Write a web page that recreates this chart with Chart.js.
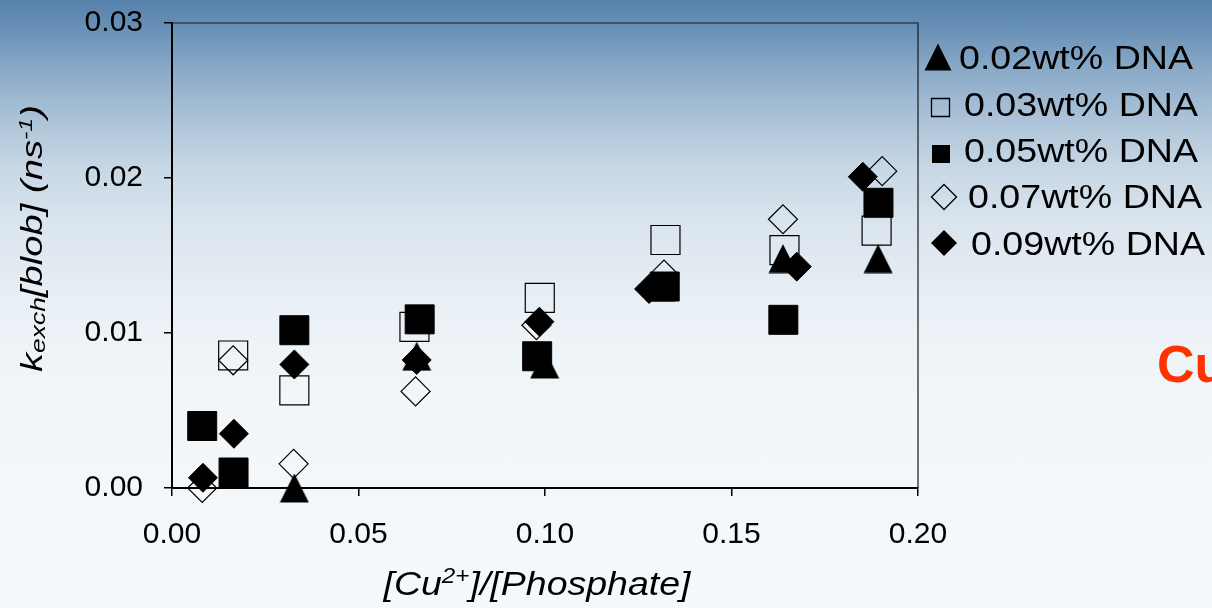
<!DOCTYPE html>
<html>
<head>
<meta charset="utf-8">
<script src="https://cdn.jsdelivr.net/npm/chart.js@4.4.0/dist/chart.umd.min.js"></script>
<style>
  html, body { margin: 0; padding: 0; }
  body {
    width: 1212px; height: 608px; overflow: hidden;
    background: linear-gradient(to bottom, #5681ab 0%, #6a92b7 5%, #8cacc9 12%, #adc4d8 20%,
      #c8d8e5 28%, #dce6ef 38%, #e9f0f5 50%, #f2f6f9 65%, #f6f9fb 100%);
  }
  #wrap { position: relative; width: 1212px; height: 608px; }
</style>
</head>
<body>
<div id="wrap"><canvas id="myChart" width="1212" height="608"></canvas></div>
<script>
// === DATA ===
const seriesNames = ["0.02wt% DNA", "0.03wt% DNA", "0.05wt% DNA", "0.07wt% DNA", "0.09wt% DNA"];

// 0.02wt% (filled triangle)
const dna002_x = [0.0328, 0.0656, 0.0999, 0.1310, 0.1638, 0.1893];
const dna002_y = [0.0000, 0.0085, 0.0080, 0.0130, 0.0148, 0.0148];
// 0.03wt% (open square)
const dna003_x = [0.0164, 0.0328, 0.0650, 0.0986, 0.1323, 0.1642, 0.1889];
const dna003_y = [0.00855, 0.0063, 0.0104, 0.01227, 0.0160, 0.01535, 0.0166];
// 0.05wt% (filled square)
const dna005_x = [0.0081, 0.0165, 0.0328, 0.0664, 0.0979, 0.1321, 0.1639, 0.1894];
const dna005_y = [0.0040, 0.0010, 0.01018, 0.01088, 0.0085, 0.0130, 0.01085, 0.0184];
// 0.07wt% (open diamond)
const dna007_x = [0.0081, 0.0164, 0.0326, 0.0653, 0.0977, 0.1319, 0.1638, 0.1904];
const dna007_y = [0.0000, 0.00824, 0.00156, 0.00623, 0.0105, 0.01377, 0.01734, 0.02044];
// 0.09wt% (filled diamond)
const dna009_x = [0.0083, 0.0166, 0.0328, 0.0656, 0.0985, 0.1279, 0.1675, 0.1852];
const dna009_y = [0.00066, 0.0035, 0.00797, 0.00826, 0.01073, 0.01284, 0.01428, 0.02008];

const xTicks = [0, 0.05, 0.10, 0.15, 0.20];
const yTicks = [0, 0.01, 0.02, 0.03];

const FONT = "'Liberation Sans', Arial, sans-serif";

function toPoints(xs, ys) {
  return xs.map((x, i) => ({ x: x, y: ys[i] }));
}

// triangle marker as a small canvas (centred on its bounding box)
function triangleImage(size) {
  const c = document.createElement("canvas");
  c.width = size; c.height = size;
  const g = c.getContext("2d");
  g.fillStyle = "#000";
  g.beginPath();
  g.moveTo(size / 2, 0.5);
  g.lineTo(size - 0.5, size - 0.5);
  g.lineTo(0.5, size - 0.5);
  g.closePath();
  g.fill();
  return c;
}

function drawMarker(ctx, kind, x, y, s) {
  ctx.beginPath();
  if (kind === "triangle") {
    ctx.moveTo(x, y - s / 2);
    ctx.lineTo(x + s / 2, y + s / 2);
    ctx.lineTo(x - s / 2, y + s / 2);
    ctx.closePath();
  } else if (kind === "square" || kind === "squareOpen") {
    ctx.rect(x - s / 2, y - s / 2, s, s);
  } else {
    ctx.moveTo(x, y - s / 2);
    ctx.lineTo(x + s / 2, y);
    ctx.lineTo(x, y + s / 2);
    ctx.lineTo(x - s / 2, y);
    ctx.closePath();
  }
  if (kind.indexOf("Open") >= 0) {
    ctx.lineWidth = 1.3;
    ctx.strokeStyle = "#000";
    ctx.stroke();
  } else {
    ctx.fillStyle = "#000";
    ctx.fill();
  }
}

// text made of runs: [text, size, dy], stretched to a target width
function richText(ctx, parts, x, y, targetW) {
  let total = 0;
  parts.forEach(p => {
    ctx.font = "italic " + p[1] + "px " + FONT;
    total += ctx.measureText(p[0]).width;
  });
  const sx = targetW / total;
  ctx.save();
  ctx.translate(x, y);
  ctx.scale(sx, 1);
  ctx.fillStyle = "#000";
  ctx.textBaseline = "alphabetic";
  ctx.textAlign = "left";
  let cx = -total / 2;
  parts.forEach(p => {
    ctx.font = "italic " + p[1] + "px " + FONT;
    ctx.fillText(p[0], cx, p[2]);
    cx += ctx.measureText(p[0]).width;
  });
  ctx.restore();
}

const extrasPlugin = {
  id: "extras",
  afterDraw(chart) {
    const ctx = chart.ctx;
    const a = chart.chartArea;

    // box on top and right
    ctx.save();
    ctx.strokeStyle = "#1a1a1a";
    ctx.lineWidth = 1.2;
    ctx.beginPath();
    ctx.moveTo(a.left, a.top);
    ctx.lineTo(a.right, a.top);
    ctx.lineTo(a.right, a.bottom);
    ctx.stroke();

    // legend
    const kinds = ["triangle", "squareOpen", "square", "diamondOpen", "diamond"];
    const mk = [[938, 57, 27], [940.5, 107.5, 18], [941, 154, 18], [944, 197, 25], [944, 243, 26]];
    const tx = [959, 964, 964, 968, 971];
    const ty = [69, 116, 162, 208, 255];
    ctx.font = "34px " + FONT;
    const sx = 234 / ctx.measureText(seriesNames[0]).width;
    for (let i = 0; i < seriesNames.length; i++) {
      drawMarker(ctx, kinds[i], mk[i][0], mk[i][1], mk[i][2]);
      ctx.save();
      ctx.translate(tx[i], ty[i]);
      ctx.scale(sx, 1);
      ctx.fillStyle = "#000";
      ctx.textAlign = "left";
      ctx.textBaseline = "alphabetic";
      ctx.font = "34px " + FONT;
      ctx.fillText(seriesNames[i], 0, 0);
      ctx.restore();
    }

    // x axis title
    richText(ctx, [["[Cu", 34, 0], ["2+", 22, -12], ["]/[Phosphate]", 34, 0]], 537, 595, 307);

    // y axis title
    ctx.save();
    ctx.translate(42, 238.5);
    ctx.rotate(-Math.PI / 2);
    richText(ctx, [["k", 29, 0], ["exch", 20, 3], ["[blob] (ns", 29, 0], ["-1", 19, -10], [")", 29, 0]], 0, 0, 267);
    ctx.restore();

    // slide title fragment
    ctx.fillStyle = "#ff3300";
    ctx.font = "bold 52px " + FONT;
    ctx.textAlign = "left";
    ctx.textBaseline = "alphabetic";
    ctx.fillText("Cu", 1157, 382);
    ctx.restore();
  }
};

const tri = triangleImage(30);

new Chart(document.getElementById("myChart"), {
  type: "scatter",
  data: {
    datasets: [
      { label: seriesNames[0], data: toPoints(dna002_x, dna002_y), pointStyle: tri, order: 5, clip: false },
      { label: seriesNames[1], data: toPoints(dna003_x, dna003_y), pointStyle: "rect", pointRadius: 20.5,
        backgroundColor: "rgba(0,0,0,0)", borderColor: "#000", borderWidth: 1.2, order: 4, clip: false },
      { label: seriesNames[2], data: toPoints(dna005_x, dna005_y), pointStyle: "rect", pointRadius: 20.5,
        backgroundColor: "#000", borderColor: "#000", borderWidth: 1, order: 3, clip: false },
      { label: seriesNames[3], data: toPoints(dna007_x, dna007_y), pointStyle: "rectRot", pointRadius: 14.5,
        backgroundColor: "rgba(0,0,0,0)", borderColor: "#000", borderWidth: 1.2, order: 2, clip: false },
      { label: seriesNames[4], data: toPoints(dna009_x, dna009_y), pointStyle: "rectRot", pointRadius: 14.5,
        backgroundColor: "#000", borderColor: "#000", borderWidth: 1, order: 1, clip: false },
    ],
  },
  options: {
    responsive: false,
    animation: false,
    devicePixelRatio: 1,
    layout: { padding: { top: 23, right: 294, left: 0, bottom: 0 } },
    plugins: { legend: { display: false }, tooltip: { enabled: false } },
    scales: {
      x: {
        type: "linear",
        min: 0,
        max: 0.2,
        afterBuildTicks: s => { s.ticks = xTicks.map(v => ({ value: v })); },
        afterFit: s => { s.height = 120; s.paddingLeft = 0; s.paddingRight = 0; },
        ticks: {
          color: "#000",
          padding: 21,
          font: { family: FONT, size: 30 },
          callback: v => Number(v).toFixed(2),
        },
        grid: { drawOnChartArea: false, drawTicks: true, tickLength: 8, color: "#000", lineWidth: 1.5 },
        border: { display: true, color: "#000", width: 2 },
      },
      y: {
        type: "linear",
        min: 0,
        max: 0.03,
        afterBuildTicks: s => { s.ticks = yTicks.map(v => ({ value: v })); },
        afterFit: s => { s.width = 172; s.paddingTop = 0; s.paddingBottom = 0; },
        ticks: {
          color: "#000",
          padding: 21,
          font: { family: FONT, size: 30 },
          callback: v => Number(v).toFixed(2),
        },
        grid: { drawOnChartArea: false, drawTicks: true, tickLength: 8, color: "#000", lineWidth: 1.5 },
        border: { display: true, color: "#000", width: 2 },
      },
    },
  },
  plugins: [extrasPlugin],
});
</script>
</body>
</html>
